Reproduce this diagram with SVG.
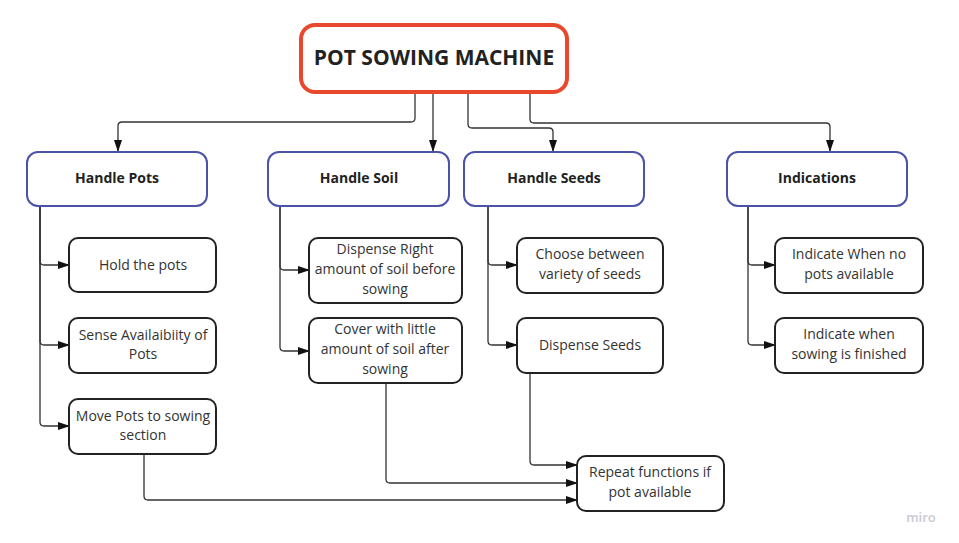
<svg xmlns="http://www.w3.org/2000/svg" width="959" height="543" viewBox="0 0 959 543">
<style>
.title{fill:#fff;stroke:#e8492c;stroke-width:4}
.l1{fill:#fff;stroke:#4b52a8;stroke-width:2}
.l2{fill:#fff;stroke:#222;stroke-width:2}
.tt{font-family:"Open Sans","Liberation Sans",sans-serif;font-weight:bold;font-size:21px;fill:#222;text-anchor:middle}
.t1{font-family:"Open Sans","Liberation Sans",sans-serif;font-weight:bold;font-size:14px;fill:#222;text-anchor:middle}
.t2{font-family:"Open Sans","Liberation Sans",sans-serif;font-size:14px;fill:#333;text-anchor:middle}
.c{fill:none;stroke:#333;stroke-width:1.3;marker-end:url(#ah)}
</style>
<defs>
<marker id="ah" markerUnits="userSpaceOnUse" markerWidth="12" markerHeight="8" refX="11" refY="4" orient="auto">
<path d="M0,0 L12,4 L0,8 z" fill="#111"/>
</marker>
</defs>
<rect width="959" height="543" fill="#fff"/>
<g id="connectors">
<path class="c" d="M415,92 V118 Q415,122 411,122 H122 Q118,122 118,126 V151"/>
<path class="c" d="M433,92 V151"/>
<path class="c" d="M468,92 V124 Q468,128 472,128 H549 Q553,128 553,132 V151"/>
<path class="c" d="M530,92 V119 Q530,123 534,123 H826 Q830,123 830,127 V151"/>
<path class="c" d="M40,206 V261 Q40,265 44,265 H69"/>
<path class="c" d="M40,206 V341 Q40,345 44,345 H69"/>
<path class="c" d="M40,206 V422 Q40,426 44,426 H69"/>
<path class="c" d="M280,206 V266 Q280,270 284,270 H309"/>
<path class="c" d="M280,206 V347 Q280,351 284,351 H309"/>
<path class="c" d="M488,206 V261 Q488,265 492,265 H517"/>
<path class="c" d="M488,206 V341 Q488,345 492,345 H517"/>
<path class="c" d="M748,206 V261 Q748,265 752,265 H775"/>
<path class="c" d="M748,206 V341 Q748,345 752,345 H775"/>
<path class="c" d="M530,373 V461 Q530,465 534,465 H577"/>
<path class="c" d="M386,384 V479 Q386,483 390,483 H577"/>
<path class="c" d="M144,454 V496 Q144,500 148,500 H577"/>
</g>
<g id="title">
<rect class="title" x="301" y="25" width="266" height="67" rx="14"/>
<text class="tt" x="434" y="65">POT SOWING MACHINE</text>
</g>
<g id="handle-pots">
<rect class="l1" x="27" y="152" width="180" height="54" rx="11"/>
<text class="t1" x="117" y="183">Handle Pots</text>
</g>
<g id="handle-soil">
<rect class="l1" x="268" y="152" width="181" height="54" rx="11"/>
<text class="t1" x="359" y="183">Handle Soil</text>
</g>
<g id="handle-seeds">
<rect class="l1" x="464" y="152" width="180" height="54" rx="11"/>
<text class="t1" x="554" y="183">Handle Seeds</text>
</g>
<g id="indications">
<rect class="l1" x="727" y="152" width="180" height="54" rx="11"/>
<text class="t1" x="817" y="183">Indications</text>
</g>
<g id="hold-pots">
<rect class="l2" x="69" y="238" width="147" height="54" rx="9"/>
<text class="t2" x="143" y="270">Hold the pots</text>
</g>
<g id="sense-pots">
<rect class="l2" x="69" y="318" width="147" height="55" rx="9"/>
<text class="t2" x="143" y="340">Sense Availaibiity of</text>
<text class="t2" x="143" y="359">Pots</text>
</g>
<g id="move-pots">
<rect class="l2" x="69" y="399" width="147" height="55" rx="9"/>
<text class="t2" x="143" y="421">Move Pots to sowing</text>
<text class="t2" x="143" y="440">section</text>
</g>
<g id="dispense-soil">
<rect class="l2" x="309" y="238" width="153" height="65" rx="9"/>
<text class="t2" x="385" y="254">Dispense Right</text>
<text class="t2" x="385" y="274">amount of soil before</text>
<text class="t2" x="385" y="294">sowing</text>
</g>
<g id="cover-soil">
<rect class="l2" x="309" y="318" width="153" height="65" rx="9"/>
<text class="t2" x="385" y="334">Cover with little</text>
<text class="t2" x="385" y="354">amount of soil after</text>
<text class="t2" x="385" y="374">sowing</text>
</g>
<g id="choose-seeds">
<rect class="l2" x="517" y="238" width="146" height="55" rx="9"/>
<text class="t2" x="590" y="259">Choose between</text>
<text class="t2" x="590" y="279">variety of seeds</text>
</g>
<g id="dispense-seeds">
<rect class="l2" x="517" y="318" width="146" height="55" rx="9"/>
<text class="t2" x="590" y="350">Dispense Seeds</text>
</g>
<g id="indicate-no-pots">
<rect class="l2" x="775" y="238" width="148" height="55" rx="9"/>
<text class="t2" x="849" y="259">Indicate When no</text>
<text class="t2" x="849" y="279">pots available</text>
</g>
<g id="indicate-finished">
<rect class="l2" x="775" y="318" width="148" height="55" rx="9"/>
<text class="t2" x="849" y="339">Indicate when</text>
<text class="t2" x="849" y="359">sowing is finished</text>
</g>
<g id="repeat">
<rect class="l2" x="577" y="456" width="147" height="55" rx="9"/>
<text class="t2" x="650" y="477">Repeat functions if</text>
<text class="t2" x="650" y="497">pot available</text>
</g>
<text x="921" y="522" font-family="'Open Sans','Liberation Sans',sans-serif" font-size="13" fill="#c9c9d2" text-anchor="middle" font-weight="600">miro</text>
</svg>
